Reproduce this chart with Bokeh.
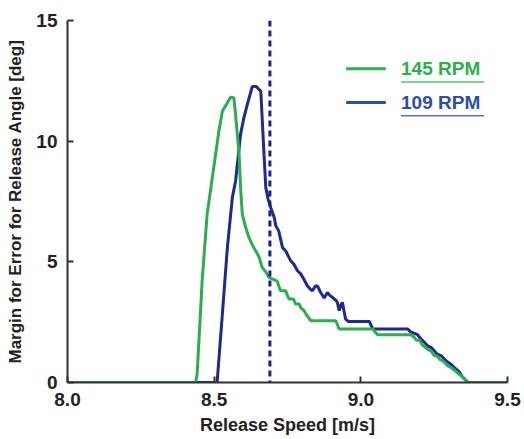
from bokeh.plotting import figure
from bokeh.models import Range1d, Span, FixedTicker, CustomJSTickFormatter
from bokeh.core.properties import value
from bokeh.embed import file_html
from bokeh.resources import INLINE

# 145 RPM (green)
x_145 = [8.0, 8.437, 8.442, 8.459, 8.476, 8.488, 8.516, 8.528, 8.556, 8.567, 8.573, 8.585,
         8.59, 8.596, 8.608, 8.619, 8.63, 8.642, 8.653, 8.664, 8.675, 8.687, 8.70, 8.715,
         8.72, 8.727, 8.744, 8.75, 8.755, 8.77, 8.778, 8.79, 8.795, 8.806, 8.815, 8.829,
         8.915, 8.926, 9.04, 9.057, 9.17, 9.18, 9.19, 9.20, 9.21, 9.22, 9.23, 9.24, 9.25,
         9.26, 9.27, 9.28, 9.296, 9.31, 9.325, 9.341, 9.355, 9.366, 9.5]
y_145 = [0, 0, 0.36, 4.2, 6.97, 8.0, 10.41, 11.24, 11.82, 11.8, 11.1, 9.44,
         8.07, 6.97, 6.4, 6.0, 5.7, 5.45, 5.2, 4.76, 4.6, 4.35, 4.28, 4.2,
         4.0, 3.8, 3.8, 3.6, 3.46, 3.46, 3.25, 3.25, 3.1, 2.98, 2.8, 2.56,
         2.56, 2.22, 2.22, 1.98, 1.98, 1.9, 1.75, 1.75, 1.55, 1.46, 1.35, 1.3, 1.12,
         1.1, 0.95, 0.9, 0.7, 0.6, 0.45, 0.29, 0.12, 0, 0]

# 109 RPM (blue)
x_109 = [8.0, 8.51, 8.528, 8.545, 8.562, 8.573, 8.59, 8.60, 8.613, 8.63, 8.643, 8.659,
         8.67, 8.676, 8.684, 8.693, 8.705, 8.71, 8.72, 8.733, 8.744, 8.761, 8.772, 8.784,
         8.795, 8.806, 8.818, 8.829, 8.835, 8.845, 8.852, 8.863, 8.875, 8.886, 8.895,
         8.903, 8.915, 8.92, 8.926, 8.932, 8.937, 8.948, 8.957, 9.029, 9.04, 9.159, 9.17,
         9.193, 9.205, 9.216, 9.23, 9.24, 9.26, 9.275, 9.29, 9.306, 9.32, 9.335, 9.347,
         9.366, 9.5]
y_109 = [0, 0, 2.84, 5.59, 7.66, 8.35, 10.28, 10.9, 11.52, 12.27, 12.27, 12.07,
         9.44, 8.07, 7.6, 7.24, 6.83, 6.5, 6.28, 5.59, 5.45, 5.04, 4.9, 4.63,
         4.5, 4.28, 4.0, 3.85, 3.8, 4.0, 4.0, 3.73, 3.5, 3.73, 3.6,
         3.53, 3.4, 3.32, 2.98, 3.2, 3.32, 2.63, 2.53, 2.53, 2.22, 2.22, 2.1,
         1.98, 1.8, 1.67, 1.5, 1.45, 1.18, 1.1, 0.9, 0.77, 0.6, 0.45, 0.22,
         0, 0]

threshold_speed = 8.69
x_ticks = [8.0, 8.5, 9.0, 9.5]
y_ticks = [0, 5, 10, 15]
series_labels = ["145 RPM", "109 RPM"]

GREEN = "#2aae4e"
BLUE = "#1f2a8e"
LEG_BLUE = "#2c4ea3"
FONT = "Liberation Sans"

p = figure(width=524, height=439, output_backend="svg", toolbar_location=None,
           x_range=Range1d(8.0, 9.5), y_range=Range1d(0, 15),
           min_border_left=67, min_border_right=17, min_border_top=20, min_border_bottom=57)
p.outline_line_color = None
p.grid.grid_line_color = None
p.background_fill_color = "white"

p.line(x_109, y_109, line_color=BLUE, line_width=3)
p.line(x_145, y_145, line_color=GREEN, line_width=3)

p.add_layout(Span(location=threshold_speed, dimension="height", line_color="#1c1f94",
                  line_width=3, line_dash="6 4"))

for ax in (p.xaxis[0], p.yaxis[0]):
    ax.axis_line_color = "#333333"
    ax.axis_line_width = 2
    ax.major_tick_line_color = "#333333"
    ax.major_tick_line_width = 2
    ax.major_tick_in = 6
    ax.major_tick_out = 0
    ax.minor_tick_line_color = None
    ax.major_label_text_font = FONT
    ax.major_label_text_font_style = "bold"
    ax.major_label_text_font_size = "19px"
    ax.major_label_text_color = "#222222"
    ax.axis_label_text_font = FONT
    ax.axis_label_text_font_style = "bold"
    ax.axis_label_text_color = "#222222"

p.xaxis.ticker = FixedTicker(ticks=x_ticks)
p.xaxis.formatter = CustomJSTickFormatter(code="return tick.toFixed(1);")
p.yaxis.ticker = FixedTicker(ticks=y_ticks)
p.xaxis.axis_label = "Release Speed [m/s]"
p.xaxis.axis_label_text_font_size = "18px"
p.xaxis.major_label_standoff = 10
p.xaxis.axis_label_standoff = 6
p.yaxis.axis_label = "Margin for Error for Release Angle [deg]"
p.yaxis.axis_label_text_font_size = "17px"
p.yaxis.major_label_standoff = 10
p.yaxis.axis_label_standoff = 8

# legend (manual, coloured underlined text)
leg_colors = [GREEN, LEG_BLUE]
leg_y = [13.0, 11.6]
for lab, col, ly in zip(series_labels, leg_colors, leg_y):
    p.segment(x0=[8.95], y0=[ly], x1=[9.085], y1=[ly], line_color=col, line_width=3)
    p.text(x=[9.137], y=[ly], text=[lab], text_color=col, text_font=value(FONT),
           text_font_style="bold", text_font_size="19px", text_baseline="middle")
    p.segment(x0=[9.137], y0=[ly - 0.55], x1=[9.42], y1=[ly - 0.55], line_color=col,
              line_width=1.5, line_alpha=0.8)

open("out.html", "w").write(file_html(p, INLINE))
